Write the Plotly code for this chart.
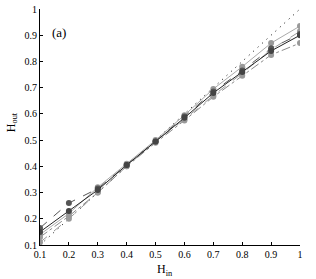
import plotly.graph_objects as go

h_in = [0.1, 0.2, 0.3, 0.4, 0.5, 0.6, 0.7, 0.8, 0.9, 1.0]
s1 = [0.150, 0.230, 0.310, 0.405, 0.495, 0.585, 0.680, 0.760, 0.840, 0.900]
s2 = [0.165, 0.260, 0.315, 0.405, 0.495, 0.590, 0.685, 0.765, 0.850, 0.905]
s3 = [0.140, 0.220, 0.320, 0.410, 0.500, 0.595, 0.695, 0.780, 0.870, 0.935]
s4 = [0.130, 0.210, 0.300, 0.400, 0.490, 0.575, 0.665, 0.745, 0.825, 0.870]
s5 = [0.110, 0.200, 0.300, 0.400, 0.495, 0.580, 0.670, 0.755, 0.845, 0.915]
ticks = [0.1, 0.2, 0.3, 0.4, 0.5, 0.6, 0.7, 0.8, 0.9, 1.0]
tick_text = ["0.1", "0.2", "0.3", "0.4", "0.5", "0.6", "0.7", "0.8", "0.9", "1"]

series = [
    (s5, "#9a9a9a", "dash", "#999999"),
    (s4, "#8a8a8a", "dashdot", "#999999"),
    (s3, "#aaaaaa", "solid", "#999999"),
    (s2, "#555555", "dash", "#555555"),
    (s1, "#222222", "solid", "#444444"),
]

fig = go.Figure()
fig.add_trace(go.Scatter(x=h_in, y=h_in, mode="lines",
                         line=dict(color="black", width=1, dash="1px,5px"), showlegend=False))
for ys, lc, dash, mc in series:
    fig.add_trace(go.Scatter(x=h_in, y=ys, mode="lines+markers",
                             line=dict(color=lc, width=1, dash=dash),
                             marker=dict(color=mc, size=6, symbol="circle"),
                             showlegend=False))

serif = "Liberation Serif"
# plot area: 260 x 236 px
fig.add_annotation(x=0.165, y=0.91, text="(a)", showarrow=False,
                   font=dict(family=serif, size=13, color="black"))
fig.add_annotation(xref="paper", yref="paper", x=0.48, y=-0.065, yanchor="top",
                   text="H<sub>in</sub>", showarrow=False,
                   font=dict(family=serif, size=12, color="black"))
fig.add_annotation(xref="paper", yref="paper", x=-0.108, y=0.52, xanchor="center",
                   text="H<sub>out</sub>", textangle=-90, showarrow=False,
                   font=dict(family=serif, size=12, color="black"))

axis_common = dict(showline=True, linecolor="black", linewidth=1, ticks="inside",
                   ticklen=3, tickcolor="black", showgrid=False, zeroline=False,
                   mirror=False, tickvals=ticks, ticktext=tick_text, automargin=False,
                   tickfont=dict(family=serif, size=10, color="black"))

fig.update_layout(
    width=316, height=279,
    margin=dict(l=40, r=16, t=9, b=34),
    paper_bgcolor="white", plot_bgcolor="white",
    xaxis=dict(range=[0.1, 1.0], **axis_common),
    yaxis=dict(range=[0.1, 1.0], **axis_common),
)

fig.write_html("out.html", config={"displayModeBar": False},
               post_script="document.body.style.margin='0';document.body.style.overflow='hidden';")
